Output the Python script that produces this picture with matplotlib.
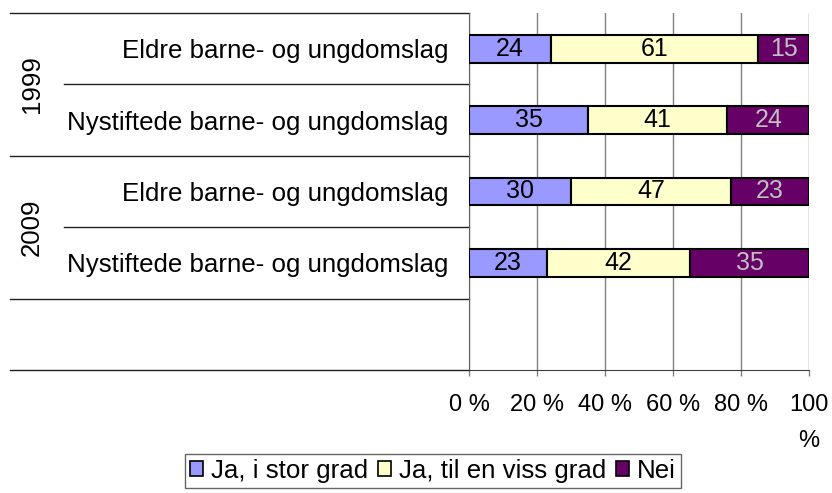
import matplotlib
matplotlib.use("Agg")
import matplotlib.pyplot as plt
from matplotlib.transforms import blended_transform_factory
from matplotlib.patches import Patch

plt.rcParams['font.family'] = ['Liberation Sans', 'DejaVu Sans']

categories = ["Eldre barne- og ungdomslag", "Nystiftede barne- og ungdomslag",
              "Eldre barne- og ungdomslag", "Nystiftede barne- og ungdomslag"]
years = ["1999", "2009"]
series_names = ["Ja, i stor grad", "Ja, til en viss grad", "Nei"]
stor_grad = [24, 35, 30, 23]
viss_grad = [61, 41, 47, 42]
nei = [15, 24, 23, 35]
xticks = [0, 20, 40, 60, 80, 100]
xtick_labels = ["0 %", "20 %", "40 %", "60 %", "80 %", "100\n%"]

colors = ["#9999FF", "#FFFFCC", "#660066"]
label_colors = ["black", "black", "#C0C0C0"]

W, H = 832, 493
fig = plt.figure(figsize=(W / 100, H / 100), dpi=100)
ax = fig.add_axes([469 / W, 1 - 370 / H, 340 / W, 357 / H])

ypos = list(range(len(categories)))
left = [0] * len(categories)
for vals, name, c, lc in zip([stor_grad, viss_grad, nei], series_names, colors, label_colors):
    cont = ax.barh(ypos, vals, left=left, height=0.39, color=c, edgecolor="black",
                   linewidth=1.5, label=name, zorder=3)
    ax.bar_label(cont, labels=[str(v) for v in vals], label_type="center",
                 color=lc, fontsize=18, zorder=4)
    left = [l + v for l, v in zip(left, vals)]

ax.set_xlim(0, 100)
ax.set_ylim(4.5, -0.5)
ax.set_xticks(xticks)
ax.set_xticklabels(xtick_labels, fontsize=17, linespacing=1.8)
ax.set_yticks(ypos)
ax.set_yticklabels(categories, fontsize=18.6)
ax.tick_params(axis="y", length=0, pad=15)
ax.tick_params(axis="x", length=4.5, width=1, color="#808080", pad=13, direction="out")
ax.grid(axis="x", color="#808080", linewidth=1, zorder=0)
for s in ["top", "right"]:
    ax.spines[s].set_visible(False)
ax.spines["left"].set_color("#606060")
ax.spines["bottom"].set_color("#404040")

# left category grouping lines
tr = blended_transform_factory(ax.transAxes, ax.transData)
full_x = (10 - 469) / 340
inner_x = (64 - 469) / 340
for y in [-0.5, 1.5, 3.5, 4.5]:
    ax.plot([full_x, 0], [y, y], color="#202020", lw=1, transform=tr, clip_on=False)
for y in [0.5, 2.5]:
    ax.plot([inner_x, 0], [y, y], color="#202020", lw=1, transform=tr, clip_on=False)
yr_x = (32 - 469) / 340
for i, yr in enumerate(years):
    ax.text(yr_x, 2 * i + 0.5, yr, rotation=90, ha="center", va="center",
            fontsize=18.6, transform=tr)

handles = [Patch(facecolor=c, edgecolor="black", linewidth=1.2) for c in colors]
fig.legend(handles, series_names, loc="center", bbox_to_anchor=(433 / W, 1 - 471 / H),
           ncol=3, fontsize=18.6, frameon=True, fancybox=False, edgecolor="#404040",
           handlelength=0.5, handleheight=0.5, handletextpad=0.3, columnspacing=0.4,
           borderpad=0.2, borderaxespad=0)

fig.savefig("out.png", dpi=100)
